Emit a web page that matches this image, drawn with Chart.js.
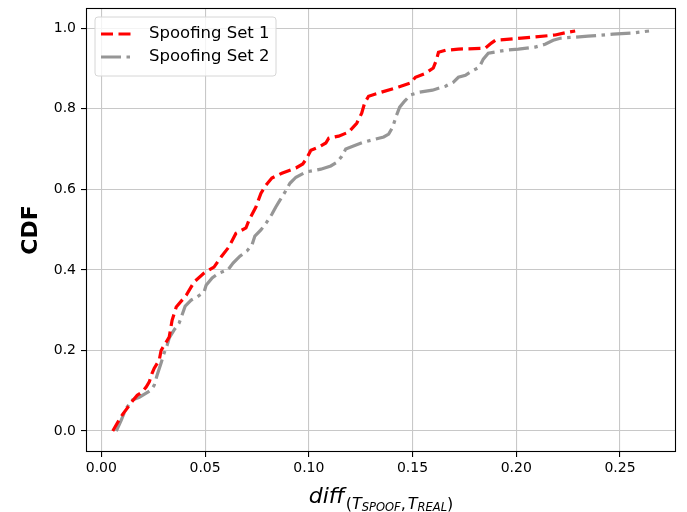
<!DOCTYPE html>
<html>
<head>
<meta charset="utf-8">
<script src="https://cdn.jsdelivr.net/npm/chart.js@4.4.0/dist/chart.umd.min.js"></script>
<style>
  html, body { margin: 0; padding: 0; background: #ffffff; }
  canvas { display: block; }
</style>
</head>
<body>
<canvas id="cdf" width="687" height="512"></canvas>
<script>
// Empirical CDF of the timing difference for the two spoofing sets
const set1Diff = [0.0055, 0.0077, 0.0101, 0.0125, 0.0149, 0.0173, 0.0197, 0.0216, 0.0231, 0.0245, 0.0255, 0.0279, 0.0288, 0.0303, 0.0327, 0.0341, 0.0361, 0.0409, 0.0447, 0.0495, 0.0543, 0.0577, 0.0615, 0.0649, 0.0697, 0.0712, 0.0745, 0.0769, 0.0793, 0.0822, 0.0870, 0.0938, 0.0971, 0.0990, 0.1010, 0.1048, 0.1082, 0.1096, 0.1144, 0.1192, 0.1231, 0.1255, 0.1269, 0.1288, 0.1337, 0.1433, 0.1490, 0.1514, 0.1563, 0.1600, 0.1615, 0.1625, 0.1659, 0.1721, 0.1850, 0.1880, 0.1900, 0.2024, 0.2188, 0.2250, 0.2284];
const set1Cdf  = [0.000, 0.020, 0.040, 0.057, 0.074, 0.089, 0.097, 0.109, 0.122, 0.144, 0.156, 0.176, 0.200, 0.213, 0.233, 0.275, 0.308, 0.337, 0.370, 0.392, 0.407, 0.432, 0.457, 0.491, 0.504, 0.524, 0.556, 0.590, 0.610, 0.628, 0.640, 0.653, 0.663, 0.677, 0.697, 0.705, 0.715, 0.727, 0.732, 0.742, 0.764, 0.789, 0.814, 0.831, 0.839, 0.854, 0.864, 0.878, 0.888, 0.901, 0.921, 0.940, 0.945, 0.948, 0.950, 0.963, 0.970, 0.975, 0.983, 0.990, 0.993];

const set2Diff = [0.0072, 0.0096, 0.0110, 0.0125, 0.0149, 0.0183, 0.0216, 0.0240, 0.0255, 0.0269, 0.0288, 0.0303, 0.0317, 0.0327, 0.0351, 0.0375, 0.0389, 0.0404, 0.0433, 0.0462, 0.0495, 0.0505, 0.0534, 0.0567, 0.0610, 0.0635, 0.0668, 0.0702, 0.0726, 0.0740, 0.0769, 0.0798, 0.0822, 0.0841, 0.0861, 0.0885, 0.0909, 0.0938, 0.0986, 0.1058, 0.1106, 0.1135, 0.1159, 0.1178, 0.1212, 0.1264, 0.1361, 0.1385, 0.1404, 0.1423, 0.1438, 0.1462, 0.1490, 0.1534, 0.1596, 0.1659, 0.1697, 0.1721, 0.1755, 0.1784, 0.1822, 0.1841, 0.1865, 0.1889, 0.1947, 0.2010, 0.2091, 0.2139, 0.2178, 0.2212, 0.2346, 0.2466, 0.2563, 0.2640];
const set2Cdf  = [0.000, 0.027, 0.045, 0.060, 0.077, 0.084, 0.094, 0.102, 0.114, 0.139, 0.169, 0.194, 0.213, 0.231, 0.251, 0.268, 0.288, 0.310, 0.325, 0.333, 0.345, 0.362, 0.380, 0.392, 0.400, 0.417, 0.434, 0.447, 0.462, 0.484, 0.499, 0.519, 0.538, 0.556, 0.573, 0.593, 0.615, 0.630, 0.643, 0.650, 0.658, 0.667, 0.682, 0.700, 0.707, 0.717, 0.730, 0.737, 0.754, 0.784, 0.804, 0.819, 0.834, 0.841, 0.846, 0.856, 0.866, 0.878, 0.883, 0.893, 0.903, 0.923, 0.938, 0.940, 0.945, 0.948, 0.953, 0.960, 0.970, 0.975, 0.980, 0.985, 0.988, 0.993];

const seriesNames = ['Spoofing Set 1', 'Spoofing Set 2'];
const xTicks = [0.00, 0.05, 0.10, 0.15, 0.20, 0.25];
const xTickLabels = ['0.00', '0.05', '0.10', '0.15', '0.20', '0.25'];
const yTicks = [0.0, 0.2, 0.4, 0.6, 0.8, 1.0];
const yTickLabels = ['0.0', '0.2', '0.4', '0.6', '0.8', '1.0'];

const FONT = "'DejaVu Sans', sans-serif";
const RED = '#ff0000';
const GREY = '#969696';
const RED_DASH = [12, 5.5];
const GREY_DASH = [20, 5.5, 3.5, 5.5];

function points(xs, ys) {
  return xs.map((x, i) => ({ x: x, y: ys[i] }));
}

// Frame, axis titles and legend box drawn on top of the plot
const decorations = {
  id: 'decorations',
  afterDraw(chart) {
    const ctx = chart.ctx;
    const a = chart.chartArea;
    ctx.save();

    // four-sided frame
    ctx.strokeStyle = '#000000';
    ctx.lineWidth = 1.1;
    ctx.setLineDash([]);
    ctx.strokeRect(Math.round(a.left) + 0.5, Math.round(a.top) + 0.5,
                   Math.round(a.right - a.left) - 1, Math.round(a.bottom - a.top) - 1);

    // y axis title
    ctx.fillStyle = '#000000';
    ctx.save();
    ctx.translate(31, (a.top + a.bottom) / 2);
    ctx.rotate(-Math.PI / 2);
    ctx.font = 'bold 22px ' + FONT;
    ctx.textAlign = 'center';
    ctx.textBaseline = 'middle';
    ctx.fillText('CDF', 0, 0);
    ctx.restore();

    // x axis title: diff with nested subscripts
    const big = 'italic 22px ' + FONT;
    const sub = 'italic 16px ' + FONT;
    const subUp = '16px ' + FONT;
    const subsub = 'italic 11.5px ' + FONT;
    const base = 502.5, baseSub = 508.5, baseSubSub = 510.5;
    const parts = [
      { t: 'diff', f: big, y: base, gapAfter: 1 },
      { t: '(', f: subUp, y: baseSub },
      { t: 'T', f: sub, y: baseSub },
      { t: 'SPOOF', f: subsub, y: baseSubSub },
      { t: ',', f: subUp, y: baseSub, gapAfter: 2 },
      { t: 'T', f: sub, y: baseSub },
      { t: 'REAL', f: subsub, y: baseSubSub },
      { t: ')', f: subUp, y: baseSub }
    ];
    let total = 0;
    parts.forEach(p => { ctx.font = p.f; p.w = ctx.measureText(p.t).width + (p.gapAfter || 0); total += p.w; });
    let x = (a.left + a.right) / 2 - total / 2;
    ctx.textAlign = 'left';
    ctx.textBaseline = 'alphabetic';
    parts.forEach(p => { ctx.font = p.f; ctx.fillText(p.t, x, p.y); x += p.w; });

    // legend
    const lx = 95, ly = 17, lw = 181, lh = 59, r = 3;
    ctx.beginPath();
    ctx.moveTo(lx + r, ly);
    ctx.arcTo(lx + lw, ly, lx + lw, ly + lh, r);
    ctx.arcTo(lx + lw, ly + lh, lx, ly + lh, r);
    ctx.arcTo(lx, ly + lh, lx, ly, r);
    ctx.arcTo(lx, ly, lx + lw, ly, r);
    ctx.closePath();
    ctx.fillStyle = 'rgba(255,255,255,0.8)';
    ctx.fill();
    ctx.strokeStyle = '#d6d6d6';
    ctx.lineWidth = 1;
    ctx.stroke();

    const entries = [
      { name: seriesNames[0], color: RED, dash: RED_DASH, y: 34 },
      { name: seriesNames[1], color: GREY, dash: GREY_DASH, y: 57 }
    ];
    entries.forEach(e => {
      ctx.beginPath();
      ctx.setLineDash(e.dash);
      ctx.strokeStyle = e.color;
      ctx.lineWidth = 3.2;
      ctx.moveTo(101, e.y);
      ctx.lineTo(131, e.y);
      ctx.stroke();
      ctx.setLineDash([]);
      ctx.fillStyle = '#000000';
      ctx.font = '16.5px ' + FONT;
      ctx.textBaseline = 'middle';
      ctx.fillText(e.name, 149, e.y);
    });
    ctx.restore();
  }
};

new Chart(document.getElementById('cdf'), {
  type: 'line',
  data: {
    datasets: [
      {
        label: seriesNames[0],
        data: points(set1Diff, set1Cdf),
        borderColor: RED,
        borderDash: RED_DASH,
        borderWidth: 3.2,
        pointRadius: 0,
        tension: 0,
        fill: false
      },
      {
        label: seriesNames[1],
        data: points(set2Diff, set2Cdf),
        borderColor: GREY,
        borderDash: GREY_DASH,
        borderWidth: 3.2,
        pointRadius: 0,
        tension: 0,
        fill: false
      }
    ]
  },
  options: {
    responsive: false,
    animation: false,
    devicePixelRatio: 1,
    layout: { padding: { left: 0, right: 11, top: 8, bottom: 0 } },
    plugins: {
      legend: { display: false },
      tooltip: { enabled: false }
    },
    scales: {
      x: {
        type: 'linear',
        min: -0.0074,
        max: 0.277,
        afterFit(scale) {
          scale.height = 60;
          scale.paddingLeft = 0; scale.paddingRight = 0;
          scale.paddingTop = 0; scale.paddingBottom = 0;
        },
        afterBuildTicks(scale) { scale.ticks = xTicks.map(v => ({ value: v })); },
        border: { display: false },
        grid: { color: '#c8c8c8', lineWidth: 1.1, tickColor: '#000000', tickLength: 5, drawTicks: true },
        ticks: {
          color: '#000000',
          font: { family: FONT, size: 14 },
          padding: 3,
          maxRotation: 0,
          callback(value) {
            const i = xTicks.findIndex(t => Math.abs(t - value) < 1e-9);
            return i >= 0 ? xTickLabels[i] : '';
          }
        }
      },
      y: {
        type: 'linear',
        min: -0.052,
        max: 1.05,
        afterFit(scale) {
          scale.width = 86;
          scale.paddingLeft = 0; scale.paddingRight = 0;
          scale.paddingTop = 0; scale.paddingBottom = 0;
        },
        afterBuildTicks(scale) { scale.ticks = yTicks.map(v => ({ value: v })); },
        border: { display: false },
        grid: { color: '#c8c8c8', lineWidth: 1.1, tickColor: '#000000', tickLength: 5, drawTicks: true },
        ticks: {
          color: '#000000',
          font: { family: FONT, size: 14 },
          padding: 5,
          callback(value) {
            const i = yTicks.findIndex(t => Math.abs(t - value) < 1e-9);
            return i >= 0 ? yTickLabels[i] : '';
          }
        }
      }
    }
  },
  plugins: [decorations]
});
</script>
</body>
</html>
